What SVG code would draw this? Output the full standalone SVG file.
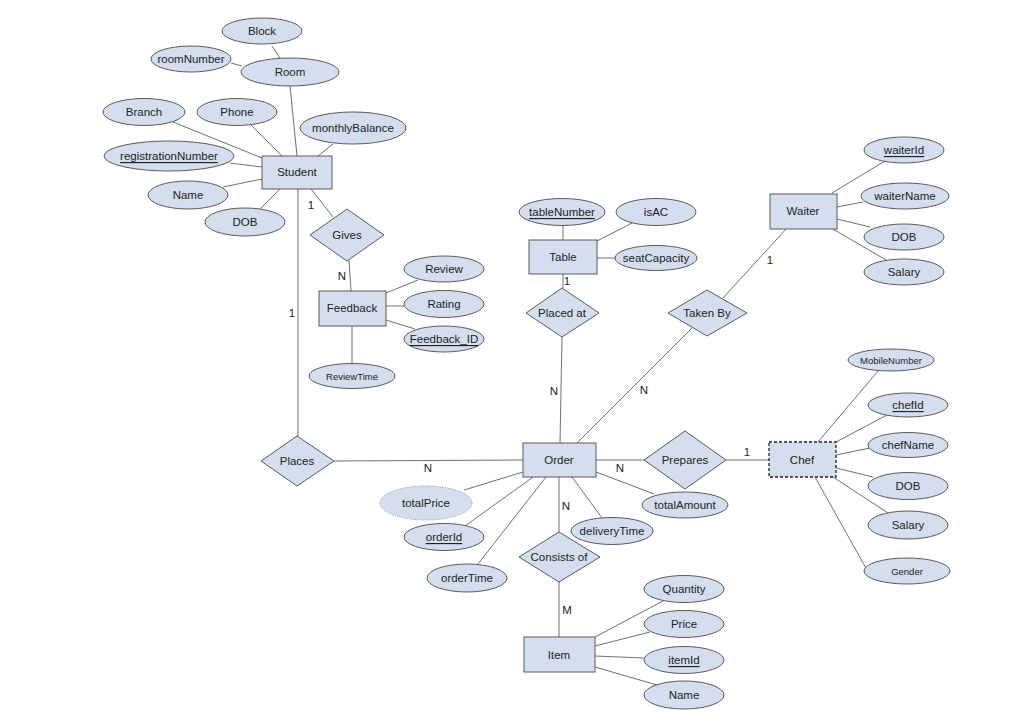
<svg xmlns="http://www.w3.org/2000/svg" width="1021" height="724" viewBox="0 0 1021 724">
<style>
.e,.r,.d{fill:#D4DEEF;stroke:#5a5a5a;stroke-width:1}
.dash{stroke:#222;stroke-dasharray:3,2;stroke-width:1.3}
.dot{stroke:#888;stroke-dasharray:1,1.5}
text{font-family:"Liberation Sans",Arial,sans-serif;font-size:11.5px;fill:#222;text-anchor:middle;dominant-baseline:central}
.s{font-size:9.5px}
.u{text-decoration:underline}
.lbl{text-anchor:middle}
#edges line{stroke:#707070;stroke-width:1}
</style>
<rect width="1021" height="724" fill="#fff"/>
<g id="edges">
<line x1="272" y1="46" x2="280" y2="58"/>
<line x1="231" y1="63" x2="242" y2="66"/>
<line x1="290" y1="86" x2="297" y2="156"/>
<line x1="173" y1="122" x2="262" y2="158"/>
<line x1="251" y1="125" x2="282" y2="156"/>
<line x1="333" y1="144" x2="318" y2="156"/>
<line x1="230" y1="163" x2="262" y2="167"/>
<line x1="223" y1="187" x2="262" y2="179"/>
<line x1="260" y1="209" x2="280" y2="189"/>
<line x1="311" y1="189" x2="333" y2="217"/>
<line x1="349" y1="260" x2="351" y2="291"/>
<line x1="386" y1="293" x2="418" y2="280"/>
<line x1="386" y1="306" x2="404" y2="306"/>
<line x1="386" y1="320" x2="415" y2="329"/>
<line x1="352" y1="326" x2="352" y2="364"/>
<line x1="298" y1="189" x2="298" y2="436"/>
<line x1="334" y1="461" x2="523" y2="460"/>
<line x1="563" y1="225" x2="563" y2="240"/>
<line x1="632" y1="223" x2="597" y2="241"/>
<line x1="597" y1="258" x2="616" y2="258"/>
<line x1="563" y1="274" x2="563" y2="288"/>
<line x1="562" y1="337" x2="560" y2="443"/>
<line x1="787" y1="228" x2="723" y2="298"/>
<line x1="692" y1="328" x2="577" y2="443"/>
<line x1="832" y1="193" x2="885" y2="161"/>
<line x1="837" y1="207" x2="863" y2="202"/>
<line x1="837" y1="219" x2="870" y2="227"/>
<line x1="833" y1="229" x2="886" y2="260"/>
<line x1="596" y1="460" x2="644" y2="460"/>
<line x1="726" y1="460" x2="769" y2="460"/>
<line x1="818" y1="442" x2="878" y2="371"/>
<line x1="836" y1="442" x2="887" y2="415"/>
<line x1="836" y1="455" x2="870" y2="448"/>
<line x1="836" y1="468" x2="873" y2="477"/>
<line x1="833" y1="477" x2="888" y2="513"/>
<line x1="815" y1="477" x2="867" y2="570"/>
<line x1="464" y1="490" x2="523" y2="472"/>
<line x1="465" y1="526" x2="533" y2="477"/>
<line x1="478" y1="564" x2="546" y2="477"/>
<line x1="602" y1="518" x2="572" y2="477"/>
<line x1="596" y1="472" x2="654" y2="494"/>
<line x1="559" y1="477" x2="559" y2="532"/>
<line x1="559" y1="582" x2="559" y2="637"/>
<line x1="595" y1="637" x2="663" y2="601"/>
<line x1="595" y1="646" x2="650" y2="632"/>
<line x1="595" y1="656" x2="644" y2="658"/>
<line x1="595" y1="667" x2="657" y2="685"/>
<text x="311" y="205">1</text>
<text x="342" y="276">N</text>
<text x="292" y="313">1</text>
<text x="567" y="281">1</text>
<text x="554" y="391">N</text>
<text x="770" y="260">1</text>
<text x="644" y="390">N</text>
<text x="428" y="468">N</text>
<text x="620" y="468">N</text>
<text x="747" y="452">1</text>
<text x="566" y="506">N</text>
<text x="567" y="610">M</text>
</g>
<g id="node-block"><ellipse class="e" cx="262" cy="31" rx="40" ry="13"/><text x="262" y="31">Block</text></g>
<g id="node-roomNumber"><ellipse class="e" cx="191" cy="59" rx="40" ry="13"/><text x="191" y="59">roomNumber</text></g>
<g id="node-room"><ellipse class="e" cx="290" cy="72" rx="49" ry="14"/><text x="290" y="72">Room</text></g>
<g id="node-branch"><ellipse class="e" cx="144" cy="112" rx="41" ry="13.5"/><text x="144" y="112">Branch</text></g>
<g id="node-phone"><ellipse class="e" cx="237" cy="112" rx="40" ry="13.5"/><text x="237" y="112">Phone</text></g>
<g id="node-monthlyBalance"><ellipse class="e" cx="353" cy="128" rx="53" ry="16"/><text x="353" y="128">monthlyBalance</text></g>
<g id="node-registrationNumber"><ellipse class="e" cx="169" cy="156" rx="65" ry="15"/><text x="169" y="156" class="u">registrationNumber</text></g>
<g id="node-student-name"><ellipse class="e" cx="188" cy="195" rx="40" ry="14"/><text x="188" y="195">Name</text></g>
<g id="node-student-dob"><ellipse class="e" cx="245" cy="222" rx="40" ry="14"/><text x="245" y="222">DOB</text></g>
<g id="node-student"><rect class="r" x="262" y="156" width="70" height="33"/><text x="297" y="172">Student</text></g>
<g id="node-gives"><polygon class="d" points="347,209 384,235 347,261 310,235"/><text x="347" y="235">Gives</text></g>
<g id="node-feedback"><rect class="r" x="319" y="291" width="67" height="35"/><text x="352" y="308">Feedback</text></g>
<g id="node-review"><ellipse class="e" cx="444" cy="269" rx="40" ry="13"/><text x="444" y="269">Review</text></g>
<g id="node-rating"><ellipse class="e" cx="444" cy="304" rx="40" ry="13.5"/><text x="444" y="304">Rating</text></g>
<g id="node-feedbackId"><ellipse class="e" cx="444" cy="339" rx="40" ry="13"/><text x="444" y="339" class="u">Feedback_ID</text></g>
<g id="node-reviewTime"><ellipse class="e" cx="352" cy="376" rx="43" ry="12.5"/><text x="352" y="376" class="s">ReviewTime</text></g>
<g id="node-places"><polygon class="d" points="297,436 334,461 297,486 261,461"/><text x="297" y="461">Places</text></g>
<g id="node-tableNumber"><ellipse class="e" cx="562" cy="212" rx="43" ry="13.5"/><text x="562" y="212" class="u">tableNumber</text></g>
<g id="node-isAC"><ellipse class="e" cx="656" cy="212" rx="40" ry="13.5"/><text x="656" y="212">isAC</text></g>
<g id="node-table"><rect class="r" x="529" y="240" width="68" height="34"/><text x="563" y="257">Table</text></g>
<g id="node-seatCapacity"><ellipse class="e" cx="656" cy="258" rx="41" ry="12.5"/><text x="656" y="258">seatCapacity</text></g>
<g id="node-placedAt"><polygon class="d" points="562,288 599,313 562,337 526,313"/><text x="562" y="313">Placed at</text></g>
<g id="node-waiter"><rect class="r" x="770" y="194" width="67" height="35"/><text x="803" y="211">Waiter</text></g>
<g id="node-waiterId"><ellipse class="e" cx="904" cy="150" rx="40" ry="13"/><text x="904" y="150" class="u">waiterId</text></g>
<g id="node-waiterName"><ellipse class="e" cx="905" cy="196" rx="44" ry="13"/><text x="905" y="196">waiterName</text></g>
<g id="node-waiter-dob"><ellipse class="e" cx="904" cy="237" rx="40" ry="13"/><text x="904" y="237">DOB</text></g>
<g id="node-waiter-salary"><ellipse class="e" cx="904" cy="272" rx="40" ry="13"/><text x="904" y="272">Salary</text></g>
<g id="node-takenBy"><polygon class="d" points="707,290 747,313 707,336 668,313"/><text x="707" y="313">Taken By</text></g>
<g id="node-order"><rect class="r" x="523" y="443" width="73" height="34"/><text x="559" y="460">Order</text></g>
<g id="node-prepares"><polygon class="d" points="685,431 726,460 685,489 644,460"/><text x="685" y="460">Prepares</text></g>
<g id="node-chef"><rect class="r dash" x="769" y="442" width="67" height="35"/><text x="802" y="460">Chef</text></g>
<g id="node-mobileNumber"><ellipse class="e" cx="891" cy="360" rx="43" ry="11"/><text x="891" y="360" class="s">MobileNumber</text></g>
<g id="node-chefId"><ellipse class="e" cx="908" cy="405" rx="40" ry="12"/><text x="908" y="405" class="u">chefId</text></g>
<g id="node-chefName"><ellipse class="e" cx="908" cy="445" rx="40" ry="12.5"/><text x="908" y="445">chefName</text></g>
<g id="node-chef-dob"><ellipse class="e" cx="908" cy="486" rx="40" ry="13.5"/><text x="908" y="486">DOB</text></g>
<g id="node-chef-salary"><ellipse class="e" cx="908" cy="525" rx="40" ry="14"/><text x="908" y="525">Salary</text></g>
<g id="node-gender"><ellipse class="e" cx="907" cy="571" rx="43" ry="13"/><text x="907" y="571" class="s">Gender</text></g>
<g id="node-totalPrice"><ellipse class="e dot" cx="426" cy="503" rx="46" ry="17"/><text x="426" y="503">totalPrice</text></g>
<g id="node-orderId"><ellipse class="e" cx="444" cy="537" rx="40" ry="13.5"/><text x="444" y="537" class="u">orderId</text></g>
<g id="node-orderTime"><ellipse class="e" cx="467" cy="578" rx="40" ry="14"/><text x="467" y="578">orderTime</text></g>
<g id="node-deliveryTime"><ellipse class="e" cx="612" cy="531" rx="41" ry="13.5"/><text x="612" y="531">deliveryTime</text></g>
<g id="node-totalAmount"><ellipse class="e" cx="685" cy="505" rx="43" ry="13"/><text x="685" y="505">totalAmount</text></g>
<g id="node-consistsOf"><polygon class="d" points="559,532 600,557 559,582 519,557"/><text x="559" y="557">Consists of</text></g>
<g id="node-item"><rect class="r" x="524" y="637" width="71" height="35"/><text x="559" y="655">Item</text></g>
<g id="node-quantity"><ellipse class="e" cx="684" cy="589" rx="40" ry="13.5"/><text x="684" y="589">Quantity</text></g>
<g id="node-price"><ellipse class="e" cx="684" cy="624" rx="40" ry="13.5"/><text x="684" y="624">Price</text></g>
<g id="node-itemId"><ellipse class="e" cx="684" cy="660" rx="40" ry="13.5"/><text x="684" y="660" class="u">itemId</text></g>
<g id="node-item-name"><ellipse class="e" cx="684" cy="695" rx="40" ry="14"/><text x="684" y="695">Name</text></g>
</svg>
